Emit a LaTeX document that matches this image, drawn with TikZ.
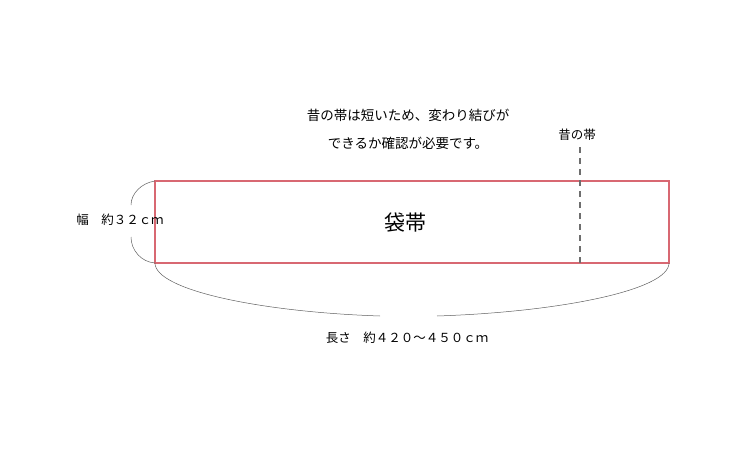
\documentclass[tikz,border=0pt]{standalone}
\usepackage{fontspec}
\newfontfamily\jpfont{Noto Sans CJK JP}
\usetikzlibrary{positioning, calc}
\definecolor{obired}{RGB}{216,104,114}
\definecolor{bracegray}{RGB}{95,95,95}
\definecolor{dashgray}{RGB}{110,110,110}

\begin{document}
\begin{tikzpicture}[x=1pt, y=-1pt, node distance=6pt,
    every node/.style={inner sep=0pt, font=\jpfont\fontsize{12.5}{15}\selectfont}]
			\useasboundingbox (0,0) rectangle (740,450);
			\coordinate (tl) at (155,181);
			\coordinate (br) at (669,263);
			\coordinate (bl) at (155,263);
			\coordinate (tr) at (669,181);
			\draw[draw=obired, line width=1.1pt] (tl) rectangle (br);
			\node (fukuro) at (405,223) {\fontsize{21}{24}\selectfont 袋帯};
			% old obi length
			\coordinate (dtop) at (580,147);
			\coordinate (dbot) at (580,263);
			\draw[dashgray, line width=1.3pt, dash pattern=on 6pt off 5pt] (dtop) -- (dbot);
			\node[above=of dtop, xshift=-3pt] (mukashi) {昔の帯};
			\node[align=center, font=\jpfont\fontsize{13.5}{28}\selectfont] (note) at (408,129) {昔の帯は短いため、変わり結びが\\できるか確認が必要です。};
			% width
			\coordinate (wa) at (131,205);
			\coordinate (wb) at (131,237);
			\draw[bracegray, line width=0.5pt]
			(tl) .. controls (141,183) and (131,194) .. (wa)
			(wb) .. controls (131,250) and (141,262) .. (bl);
			\node (haba) at (120,220) {幅　約３２ｃｍ};
			% length
			\coordinate (la) at (380,316);
			\coordinate (lb) at (437,316);
			\draw[bracegray, line width=0.5pt]
			(bl) .. controls (155,290) and (260,312) .. (la)
			(lb) .. controls (560,312) and (669,290) .. (br);
			\node (nagasa) at (407,338) {長さ　約４２０～４５０ｃｍ};
		\end{tikzpicture}
\end{document}
